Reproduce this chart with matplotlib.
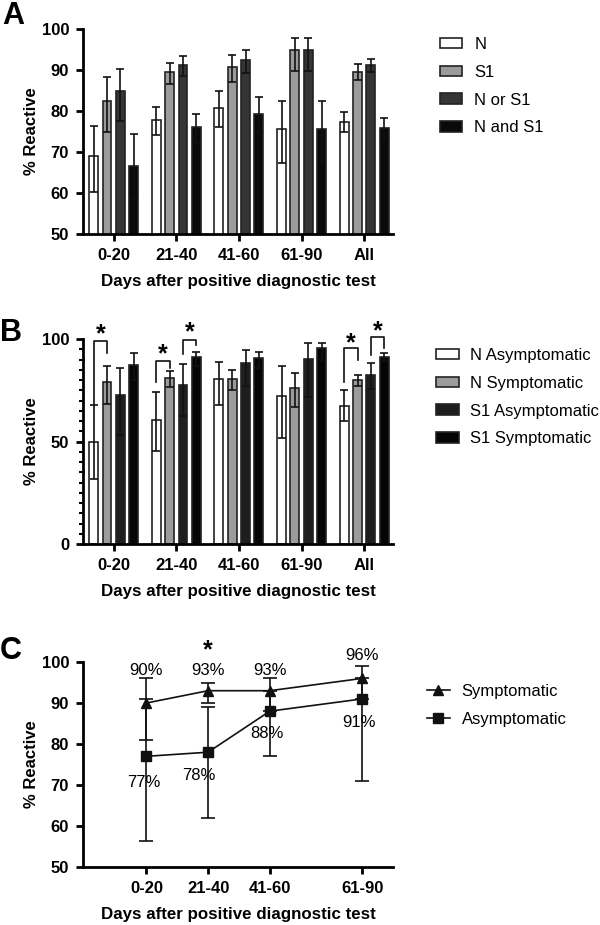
import numpy as np
import matplotlib
matplotlib.use("Agg")
import matplotlib.pyplot as plt
from matplotlib.patches import Patch
from matplotlib.lines import Line2D

plt.rcParams["font.family"] = ["Liberation Sans", "DejaVu Sans"]

# ---- Panel A data ----
groups_ab = ["0-20", "21-40", "41-60", "61-90", "All"]
a_labels = ["N", "S1", "N or S1", "N and S1"]
a_mean = [
    [69.0, 77.8, 80.8, 75.5, 77.4],
    [82.5, 89.4, 90.7, 95.0, 89.6],
    [85.0, 91.1, 92.4, 95.0, 91.2],
    [66.7, 76.0, 79.2, 75.5, 75.8],
]
a_lo = [
    [60.3, 74.1, 76.1, 67.2, 74.8],
    [74.9, 86.7, 87.0, 89.7, 87.6],
    [77.6, 88.5, 89.3, 89.7, 89.6],
    [58.5, 72.3, 74.8, 67.2, 73.2],
]
a_hi = [
    [76.4, 80.9, 84.9, 82.4, 79.8],
    [88.2, 91.8, 93.7, 97.7, 91.4],
    [90.2, 93.3, 94.9, 97.7, 92.8],
    [74.3, 79.3, 83.4, 82.4, 78.2],
]

# ---- Panel B data ----
b_labels = ["N Asymptomatic", "N Symptomatic", "S1 Asymptomatic", "S1 Symptomatic"]
b_mean = [
    [49.6, 60.6, 80.5, 72.4, 67.5],
    [79.2, 80.8, 80.3, 75.9, 79.8],
    [72.7, 77.7, 88.1, 90.4, 82.6],
    [87.5, 91.2, 90.7, 95.6, 91.4],
]
b_lo = [
    [31.7, 45.2, 67.7, 51.6, 60.0],
    [68.4, 76.7, 75.0, 66.7, 77.0],
    [53.2, 62.6, 77.0, 71.9, 75.5],
    [80.0, 87.0, 86.0, 90.0, 89.5],
]
b_hi = [
    [67.7, 74.1, 88.9, 86.8, 75.0],
    [87.0, 84.5, 84.7, 83.4, 82.6],
    [86.0, 87.8, 94.5, 98.2, 88.1],
    [93.2, 93.7, 93.8, 98.2, 93.0],
]
# significance brackets: (group, left series, right series, left arm bottom, right arm bottom, top, star y)
b_sig = [
    (0, 0, 1, 67.7, 93.0, 99.1, 106.0),
    (1, 0, 1, 79.2, 86.0, 89.3, 96.0),
    (1, 2, 3, 92.7, 97.0, 99.7, 107.0),
    (4, 0, 1, 79.2, 90.0, 95.4, 101.6),
    (4, 2, 3, 92.2, 95.4, 100.8, 107.6),
]

# ---- Panel C data ----
c_groups = ["0-20", "21-40", "41-60", "61-90"]
c_pos = [1, 2, 3, 4.5]
sym = [90, 93, 93, 96]
sym_lo = [81, 89.9, 88, 91]
sym_hi = [96, 95, 96, 99]
asym = [77, 78, 88, 91]
asym_lo = [56.3, 62, 77, 71]
asym_hi = [91, 89.1, 93, 96]

A_COLORS = ["#ffffff", "#9b9b9b", "#353535", "#0a0a0a"]
B_COLORS = ["#ffffff", "#9b9b9b", "#1e1e1e", "#050505"]
EDGE = "#222222"
ERR = "#111111"

BAR_STEP = 0.213
BAR_W = 0.143


def style_axes(ax):
    for s in ["top", "right"]:
        ax.spines[s].set_visible(False)
    for s in ["left", "bottom"]:
        ax.spines[s].set_linewidth(2.0)
    ax.tick_params(axis="both", which="major", width=2.0, length=5, direction="out", pad=5)
    ax.tick_params(axis="both", which="minor", width=1.5, length=3, direction="out")
    ax.set_ylabel("% Reactive", fontsize=12, fontweight="bold", labelpad=2)
    ax.set_xlabel("Days after positive diagnostic test", fontsize=12.2, fontweight="bold", labelpad=8)
    for lab in ax.get_xticklabels() + ax.get_yticklabels():
        lab.set_fontsize(12)
        lab.set_fontweight("bold")


def draw_bars(ax, mean, lo, hi, colors):
    x = np.arange(len(groups_ab))
    for i in range(4):
        xs = x + (i - 1.5) * BAR_STEP
        m = np.array(mean[i])
        yerr = [m - np.array(lo[i]), np.array(hi[i]) - m]
        ax.bar(xs, m, width=BAR_W, color=colors[i], edgecolor=EDGE, linewidth=1.2, zorder=2)
        ax.errorbar(xs, m, yerr=yerr, fmt="none", ecolor=ERR, elinewidth=1.2,
                    capsize=3, capthick=1.2, zorder=3)
    ax.set_xticks(x)
    ax.set_xticklabels(groups_ab)
    ax.set_xlim(-0.49, 4.46)


def bar_legend(ax, colors, labels, x_px, y_px):
    handles = [Patch(facecolor=c, edgecolor=EDGE, linewidth=1.2) for c in colors]
    ax.legend(handles, labels, loc="upper left", bbox_to_anchor=(x_px / 600, 1 - y_px / 925),
              bbox_transform=fig.transFigure, frameon=False, fontsize=12, borderpad=0,
              handlelength=1.35, handleheight=0.6, handletextpad=0.72, labelspacing=0.77,
              borderaxespad=0)


fig = plt.figure(figsize=(6, 9.25), dpi=100)
L, W, H = 83 / 600, 310 / 600, 205 / 925

# ---------- A ----------
axA = fig.add_axes([L, 1 - 234 / 925, W, H])
draw_bars(axA, a_mean, a_lo, a_hi, A_COLORS)
axA.set_ylim(50, 100)
axA.set_yticks([50, 60, 70, 80, 90, 100])
style_axes(axA)
bar_legend(axA, A_COLORS, a_labels, 440, 37)
fig.text(2 / 600, 1 - 1 / 925, "A", fontsize=22, fontweight="bold", va="top", ha="left")

# ---------- B ----------
axB = fig.add_axes([L, 1 - 544 / 925, W, H])
draw_bars(axB, b_mean, b_lo, b_hi, B_COLORS)
axB.set_ylim(0, 100)
axB.set_yticks([0, 50, 100])
axB.set_yticks(np.arange(0, 101, 5), minor=True)
style_axes(axB)
for g, s1, s2, yl, yr, yt, ys in b_sig:
    x1 = g + (s1 - 1.5) * BAR_STEP
    x2 = g + (s2 - 1.5) * BAR_STEP
    axB.plot([x1, x1, x2, x2], [yl, yt, yt, yr], color=ERR, lw=1.2, clip_on=False, zorder=4)
    axB.annotate("*", xy=((x1 + x2) / 2, ys), xytext=(0, -10.4), textcoords="offset points",
                 ha="center", va="baseline", fontsize=18, fontweight="bold", annotation_clip=False)
bar_legend(axB, B_COLORS, b_labels, 436, 348)
fig.text(0 / 600, 1 - 318 / 925, "B", fontsize=22, fontweight="bold", va="top", ha="left")

# ---------- C ----------
axC = fig.add_axes([L, 1 - 867 / 925, W, H])
s = np.array(sym)
a = np.array(asym)
axC.errorbar(c_pos, s, yerr=[s - np.array(sym_lo), np.array(sym_hi) - s], fmt="-^",
             color="#111111", ecolor=ERR, lw=1.2, elinewidth=1.2, capsize=5, capthick=1.2,
             markersize=7.5, label="Symptomatic", zorder=3)
axC.errorbar(c_pos, a, yerr=[a - np.array(asym_lo), np.array(asym_hi) - a], fmt="-s",
             color="#111111", ecolor=ERR, lw=1.2, elinewidth=1.2, capsize=5, capthick=1.2,
             markersize=7.5, label="Asymptomatic", zorder=3)
axC.set_xlim(-0.03, 5.0)
axC.set_ylim(50, 100)
axC.set_xticks(c_pos)
axC.set_xticklabels(c_groups)
axC.set_yticks([50, 60, 70, 80, 90, 100])
style_axes(axC)

# percent labels
sym_lab_y = [97.9, 97.9, 97.9, 101.7]
asym_lab_y = [70.6, 72.3, 82.6, 85.2]
asym_lab_dx = [-0.05, -0.15, -0.05, -0.05]
for xp, v, ly in zip(c_pos, sym, sym_lab_y):
    axC.text(xp, ly, f"{v}%", ha="center", va="center", fontsize=12, clip_on=False)
for xp, v, ly, dx in zip(c_pos, asym, asym_lab_y, asym_lab_dx):
    axC.text(xp + dx, ly, f"{v}%", ha="center", va="center", fontsize=12, clip_on=False)
axC.annotate("*", xy=(c_pos[1], 104.6), xytext=(0, -10.4), textcoords="offset points",
             ha="center", va="baseline", fontsize=18, fontweight="bold", annotation_clip=False)

hC = [Line2D([0], [0], color="#111111", lw=1.2, marker="^", markersize=7),
      Line2D([0], [0], color="#111111", lw=1.2, marker="s", markersize=7)]
axC.legend(hC, ["Symptomatic", "Asymptomatic"], loc="upper left",
           bbox_to_anchor=(427 / 600, 1 - 684 / 925), bbox_transform=fig.transFigure,
           frameon=False, fontsize=12, borderpad=0, handlelength=1.35, handletextpad=0.72,
           labelspacing=0.77, borderaxespad=0, numpoints=1)
fig.text(0 / 600, 1 - 636 / 925, "C", fontsize=22, fontweight="bold", va="top", ha="left")

fig.savefig("out.png", dpi=100)
